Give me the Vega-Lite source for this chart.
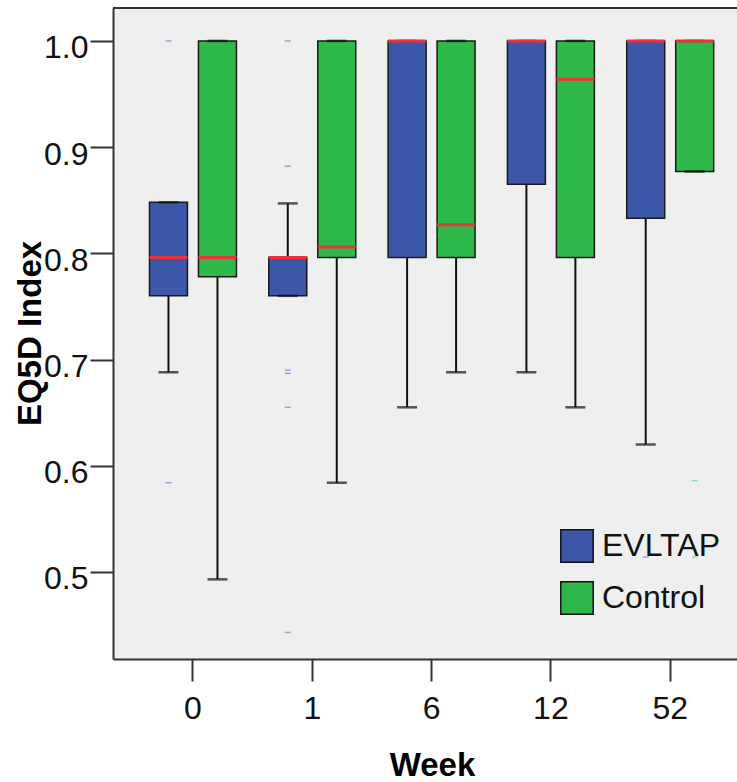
{
  "$schema": "https://vega.github.io/schema/vega-lite/v6.json",
  "autosize": {"type": "none"},
  "padding": {"left": 113, "top": 8, "right": 0, "bottom": 123},
  "width": 624,
  "height": 651,
  "background": "white",
  "config": {
    "view": {"stroke": null, "fill": "#efefef"},
    "font": "Liberation Sans",
    "axisY": {
      "labelFontSize": 32, "labelColor": "#111", "labelPadding": 2, "labelOffset": 7,
      "tickSize": 23, "tickWidth": 2, "tickColor": "#333",
      "domainColor": "#333", "domainWidth": 2, "grid": false,
      "titleFontSize": 33, "titleFontWeight": "bold", "titleColor": "#000",
      "titleX": -73, "titleY": 325, "titleAngle": 270, "titleBaseline": "alphabetic", "titleAlign": "center"
    },
    "axisX": {
      "labelFontSize": 32, "labelColor": "#111", "labelAngle": 0, "labelPadding": 12,
      "tickSize": 22, "tickWidth": 2, "tickColor": "#333",
      "domainColor": "#333", "domainWidth": 2, "grid": false,
      "titleFontSize": 33, "titleFontWeight": "bold", "titleColor": "#000",
      "titleX": 319, "titleY": 116, "titleBaseline": "alphabetic", "titleAlign": "center"
    },
    "legend": {
      "orient": "none", "legendX": 447, "legendY": 521, "padding": 0,
      "symbolType": "square", "symbolSize": 1050, "symbolStrokeColor": "#111", "symbolStrokeWidth": 1.5,
      "symbolOpacity": 1, "labelFontSize": 32, "labelColor": "#111", "labelOffset": 8, "rowPadding": 12,
      "labelFont": "Liberation Sans"
    }
  },
  "datasets": {
    "stats": [
      {"week": "0", "group": "EVLTAP", "lower": 0.688, "q1": 0.760, "median": 0.796, "q3": 0.848, "upper": 0.848},
      {"week": "0", "group": "Control", "lower": 0.493, "q1": 0.778, "median": 0.796, "q3": 1.0, "upper": 1.0},
      {"week": "1", "group": "EVLTAP", "lower": 0.760, "q1": 0.760, "median": 0.796, "q3": 0.796, "upper": 0.847},
      {"week": "1", "group": "Control", "lower": 0.584, "q1": 0.796, "median": 0.806, "q3": 1.0, "upper": 1.0},
      {"week": "6", "group": "EVLTAP", "lower": 0.655, "q1": 0.796, "median": 1.0, "q3": 1.0, "upper": 1.0},
      {"week": "6", "group": "Control", "lower": 0.688, "q1": 0.796, "median": 0.827, "q3": 1.0, "upper": 1.0},
      {"week": "12", "group": "EVLTAP", "lower": 0.688, "q1": 0.865, "median": 1.0, "q3": 1.0, "upper": 1.0},
      {"week": "12", "group": "Control", "lower": 0.655, "q1": 0.796, "median": 0.964, "q3": 1.0, "upper": 1.0},
      {"week": "52", "group": "EVLTAP", "lower": 0.620, "q1": 0.833, "median": 1.0, "q3": 1.0, "upper": 1.0},
      {"week": "52", "group": "Control", "lower": 0.877, "q1": 0.877, "median": 1.0, "q3": 1.0, "upper": 1.0}
    ],
    "outliers": [
      {"week": "0", "group": "EVLTAP", "value": 1.0},
      {"week": "0", "group": "EVLTAP", "value": 0.584},
      {"week": "1", "group": "EVLTAP", "value": 1.0},
      {"week": "1", "group": "EVLTAP", "value": 0.882},
      {"week": "1", "group": "EVLTAP", "value": 0.690},
      {"week": "1", "group": "EVLTAP", "value": 0.687},
      {"week": "1", "group": "EVLTAP", "value": 0.655},
      {"week": "1", "group": "EVLTAP", "value": 0.443},
      {"week": "52", "group": "EVLTAP", "value": 0.514},
      {"week": "52", "group": "Control", "value": 0.586},
      {"week": "52", "group": "Control", "value": 0.514}
    ],
    "frame": [{"top": 1.031}]
  },
  "encoding": {
    "x": {
      "field": "week", "type": "nominal", "sort": ["0", "1", "6", "12", "52"], "title": "Week",
      "scale": {"type": "band", "domain": ["0", "1", "6", "12", "52"], "paddingInner": 0, "paddingOuter": 0.115, "align": 0.74}
    },
    "xOffset": {
      "field": "group", "type": "nominal",
      "scale": {"domain": ["EVLTAP", "Control"], "paddingInner": 0.2245, "paddingOuter": 0.33}
    }
  },
  "layer": [
    {
      "data": {"name": "stats"},
      "mark": {"type": "rule", "color": "#111", "strokeWidth": 2},
      "encoding": {
        "y": {"field": "lower", "type": "quantitative", "title": "EQ5D Index",
              "scale": {"domain": [0.418, 1.031], "nice": false, "zero": false},
              "axis": {"values": [0.5, 0.6, 0.7, 0.8, 0.9, 1.0], "format": ".1f"}},
        "y2": {"field": "upper"}
      }
    },
    {
      "data": {"name": "stats"},
      "mark": {"type": "bar", "stroke": "#1a1a1a", "strokeWidth": 1.5, "opacity": 1},
      "encoding": {
        "y": {"field": "q1", "type": "quantitative", "title": "EQ5D Index",
              "scale": {"domain": [0.418, 1.031], "nice": false, "zero": false},
              "axis": {"values": [0.5, 0.6, 0.7, 0.8, 0.9, 1.0], "format": ".1f"}},
        "y2": {"field": "q3"},
        "color": {"field": "group", "type": "nominal", "title": null,
                  "scale": {"domain": ["EVLTAP", "Control"], "range": ["#3c57a9", "#2fb84a"]}}
      }
    },
    {
      "data": {"name": "stats"},
      "mark": {"type": "tick", "orient": "horizontal", "color": "#111", "size": 20, "thickness": 2.5},
      "encoding": {
        "y": {"field": "lower", "type": "quantitative", "title": "EQ5D Index",
              "scale": {"domain": [0.418, 1.031], "nice": false, "zero": false},
              "axis": {"values": [0.5, 0.6, 0.7, 0.8, 0.9, 1.0], "format": ".1f"}}
      }
    },
    {
      "data": {"name": "stats"},
      "mark": {"type": "tick", "orient": "horizontal", "color": "#111", "size": 20, "thickness": 2.5},
      "encoding": {
        "y": {"field": "upper", "type": "quantitative", "title": "EQ5D Index",
              "scale": {"domain": [0.418, 1.031], "nice": false, "zero": false},
              "axis": {"values": [0.5, 0.6, 0.7, 0.8, 0.9, 1.0], "format": ".1f"}}
      }
    },
    {
      "data": {"name": "stats"},
      "mark": {"type": "tick", "orient": "horizontal", "color": "#e8323c", "size": 38, "thickness": 3, "opacity": 1},
      "encoding": {
        "y": {"field": "median", "type": "quantitative", "title": "EQ5D Index",
              "scale": {"domain": [0.418, 1.031], "nice": false, "zero": false},
              "axis": {"values": [0.5, 0.6, 0.7, 0.8, 0.9, 1.0], "format": ".1f"}}
      }
    },
    {
      "data": {"name": "outliers"},
      "transform": [{"filter": "datum.group === 'EVLTAP'"}],
      "mark": {"type": "tick", "orient": "horizontal", "color": "#95a3db", "size": 6, "thickness": 1.5, "opacity": 1},
      "encoding": {
        "y": {"field": "value", "type": "quantitative", "title": "EQ5D Index",
              "scale": {"domain": [0.418, 1.031], "nice": false, "zero": false},
              "axis": {"values": [0.5, 0.6, 0.7, 0.8, 0.9, 1.0], "format": ".1f"}}
      }
    },
    {
      "data": {"name": "outliers"},
      "transform": [{"filter": "datum.group === 'Control'"}],
      "mark": {"type": "tick", "orient": "horizontal", "color": "#95d9a3", "size": 6, "thickness": 1.5, "opacity": 1},
      "encoding": {
        "y": {"field": "value", "type": "quantitative", "title": "EQ5D Index",
              "scale": {"domain": [0.418, 1.031], "nice": false, "zero": false},
              "axis": {"values": [0.5, 0.6, 0.7, 0.8, 0.9, 1.0], "format": ".1f"}}
      }
    },
    {
      "data": {"name": "frame"},
      "mark": {"type": "rule", "color": "#333", "strokeWidth": 2},
      "encoding": {
        "x": null,
        "xOffset": null,
        "y": {"field": "top", "type": "quantitative", "title": "EQ5D Index",
              "scale": {"domain": [0.418, 1.031], "nice": false, "zero": false},
              "axis": {"values": [0.5, 0.6, 0.7, 0.8, 0.9, 1.0], "format": ".1f"}}
      }
    }
  ]
}
